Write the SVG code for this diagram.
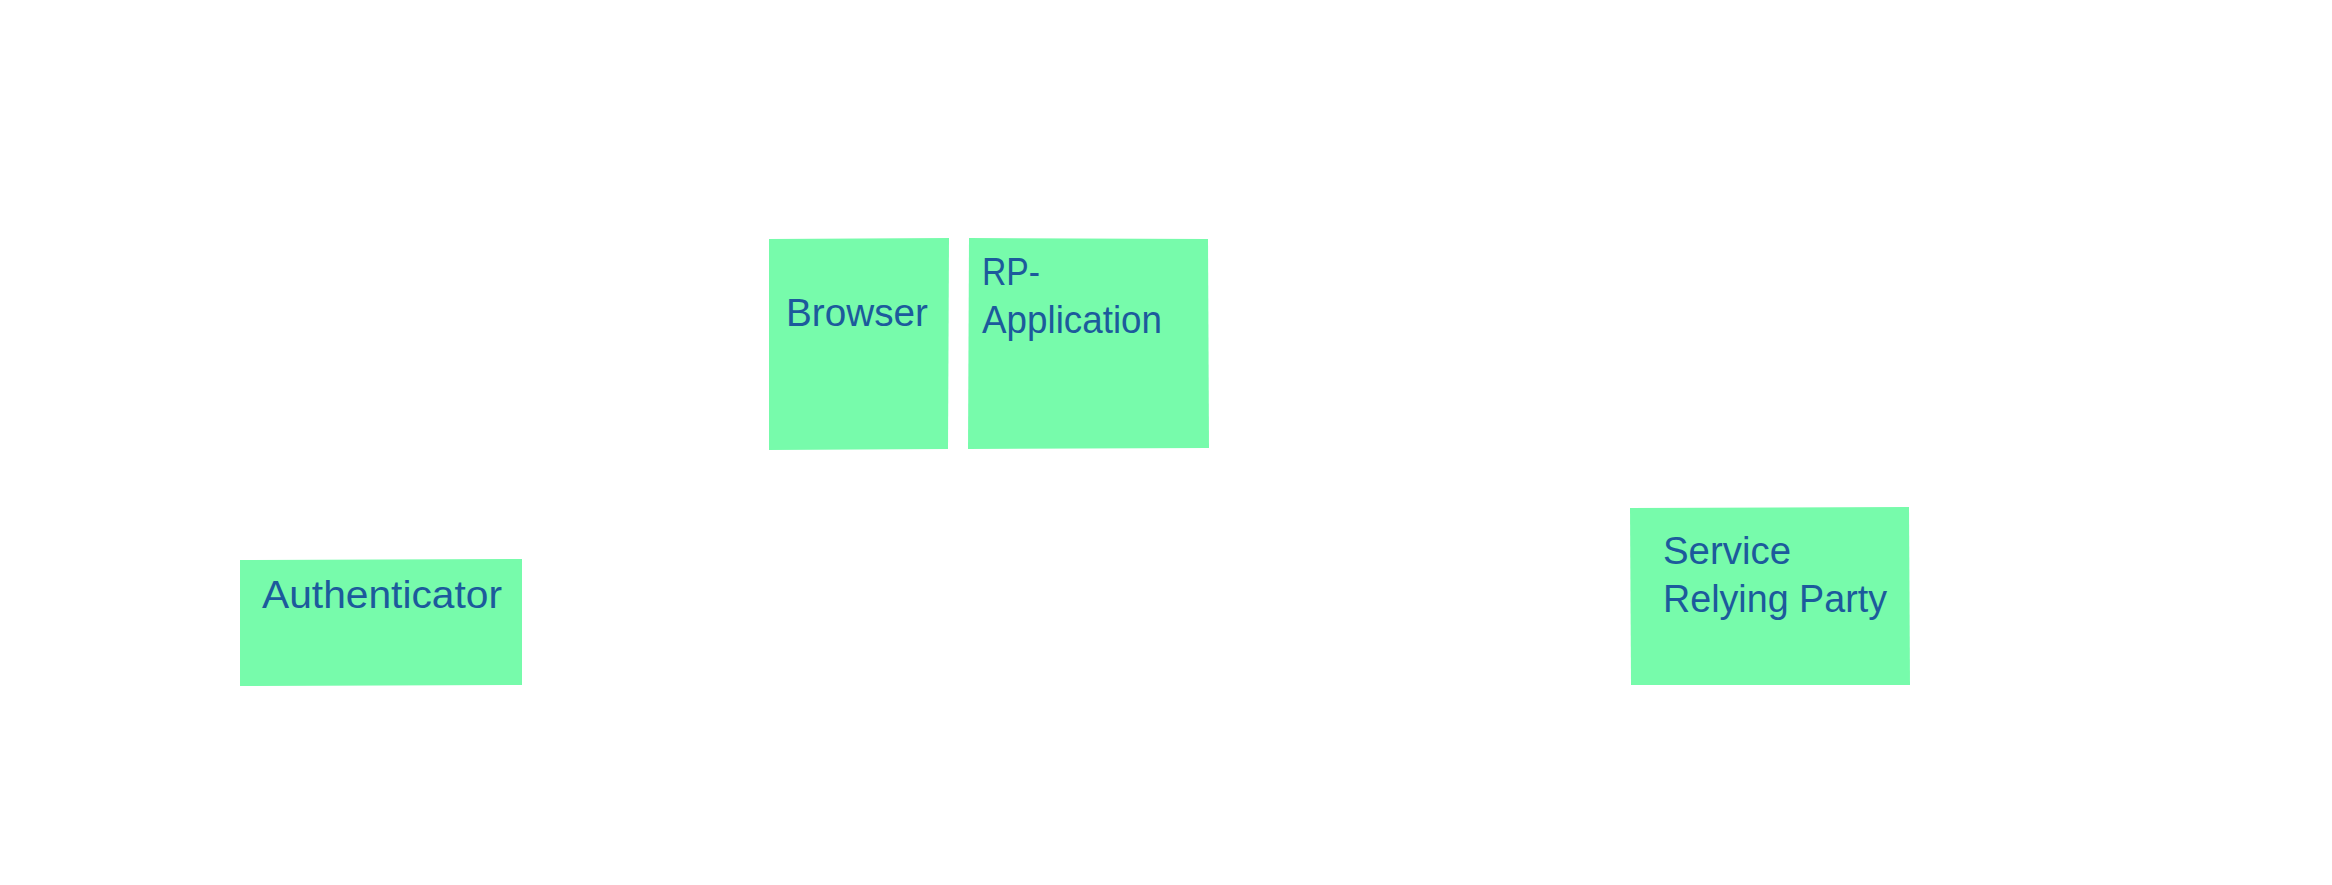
<svg xmlns="http://www.w3.org/2000/svg" width="2332" height="885" viewBox="0 0 2332 885">
<style>
.box{fill:#77fbab;stroke:none}
.lbl{font-family:"Liberation Sans","DejaVu Sans",sans-serif;font-size:38px;fill:#1c5a9c}
</style>
<rect width="2332" height="885" fill="#ffffff"/>
<g id="connectors"></g>
<g id="browser">
<polygon class="box" points="769,239 949,238 948,449 769,450"/>
<text class="lbl" x="786" y="326" textLength="142" lengthAdjust="spacingAndGlyphs">Browser</text>
</g>
<g id="rp-application">
<polygon class="box" points="969,238 1208,239 1209,448 968,449"/>
<text class="lbl" x="982" y="285" textLength="58" lengthAdjust="spacingAndGlyphs">RP-</text>
<text class="lbl" x="982" y="333" textLength="180" lengthAdjust="spacingAndGlyphs">Application</text>
</g>
<g id="authenticator">
<polygon class="box" points="240,560 522,559 522,685 240,686"/>
<text class="lbl" x="262" y="608" textLength="240" lengthAdjust="spacingAndGlyphs">Authenticator</text>
</g>
<g id="service-relying-party">
<polygon class="box" points="1630,508 1909,507 1910,685 1631,685"/>
<text class="lbl" x="1663" y="564" textLength="128" lengthAdjust="spacingAndGlyphs">Service</text>
<text class="lbl" x="1663" y="612" textLength="224" lengthAdjust="spacingAndGlyphs">Relying Party</text>
</g>
</svg>
